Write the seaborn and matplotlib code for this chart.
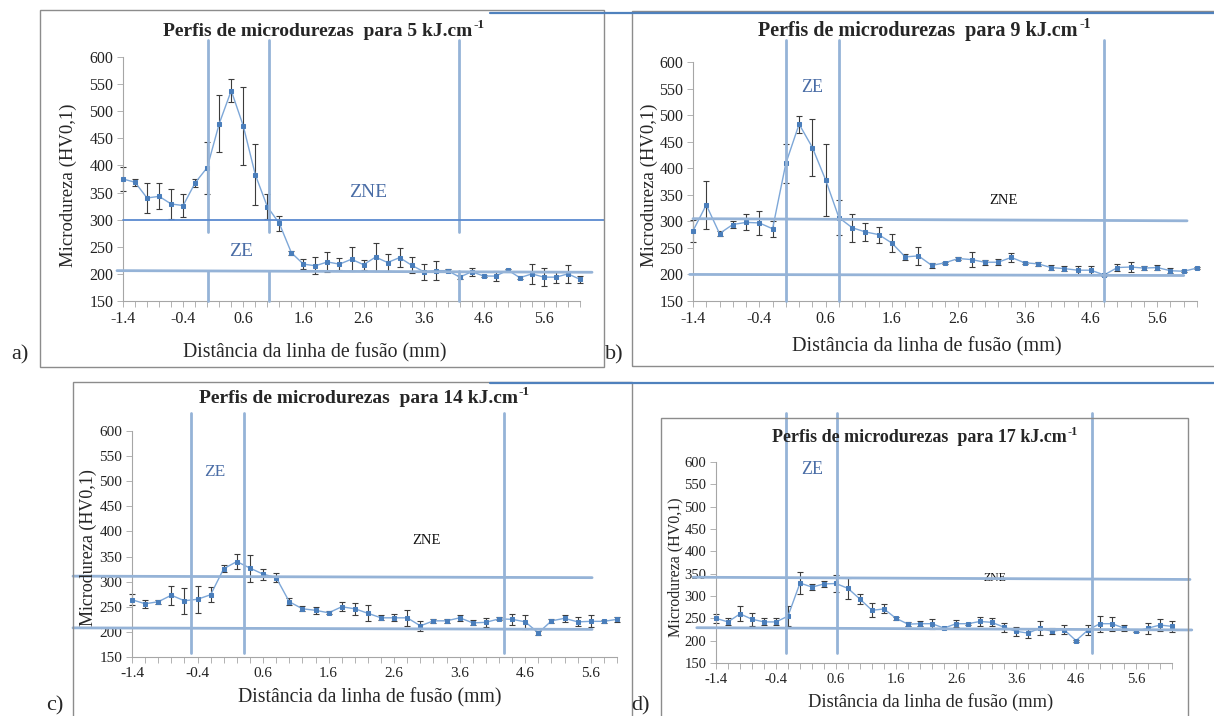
import matplotlib
matplotlib.use("Agg")
import matplotlib.pyplot as plt
from matplotlib.lines import Line2D
from matplotlib.patches import Rectangle
import seaborn as sns

sns.set_theme(style="white")
plt.rcParams["font.family"] = ["Liberation Serif", "DejaVu Serif"]

# ── dados ──────────────────────────────────────────────────────────────────────
DIST = [-1.4, -1.2, -1.0, -0.8, -0.6, -0.4, -0.2, 0.0, 0.2, 0.4, 0.6, 0.8, 1.0,
        1.2, 1.4, 1.6, 1.8, 2.0, 2.2, 2.4, 2.6, 2.8, 3.0, 3.2, 3.4, 3.6, 3.8,
        4.0, 4.2, 4.4, 4.6, 4.8, 5.0, 5.2, 5.4, 5.6, 5.8, 6.0, 6.2]
TICK_LABELS = ["-1.4", "-0.4", "0.6", "1.6", "2.6", "3.6", "4.6", "5.6"]
Y_TICKS = [150, 200, 250, 300, 350, 400, 450, 500, 550, 600]

HV_5 = [375, 369, 340, 343, 329, 326, 368, 396, 477, 538, 473, 383, 324, 293,
        239, 218, 215, 222, 218, 227, 217, 231, 221, 230, 216, 204, 206, 206,
        194, 204, 196, 196, 207, 193, 200, 194, 194, 200, 190]
ERR_5 = [22, 6, 27, 24, 28, 22, 7, 48, 52, 21, 72, 56, 23, 14, 4, 9, 16, 18,
         11, 22, 9, 26, 15, 17, 15, 15, 17, 3, 4, 7, 2, 10, 2, 3, 18, 16, 10,
         16, 7]

HV_9 = [282, 331, 277, 294, 298, 297, 286, 409, 483, 439, 378, 307, 288, 280,
        275, 259, 233, 235, 217, 222, 230, 228, 223, 223, 232, 222, 220, 213,
        211, 208, 208, 199, 213, 214, 212, 213, 207, 206, 212]
ERR_9 = [21, 45, 4, 6, 15, 23, 15, 37, 16, 54, 68, 33, 26, 17, 15, 17, 6, 17,
         5, 2, 3, 14, 5, 6, 8, 2, 4, 5, 4, 7, 8, 1, 7, 9, 4, 4, 5, 2, 2]

HV_14 = [264, 256, 260, 273, 262, 265, 274, 326, 340, 327, 315, 308, 260, 246,
         243, 238, 250, 246, 237, 228, 228, 228, 212, 222, 222, 228, 218, 219,
         226, 225, 220, 198, 222, 227, 220, 221, 221, 225]
ERR_14 = [11, 8, 4, 19, 26, 27, 15, 7, 15, 27, 11, 9, 7, 5, 7, 3, 9, 12, 16, 5,
          7, 16, 10, 4, 4, 6, 5, 9, 3, 11, 14, 4, 4, 7, 9, 12, 3, 5]

HV_17 = [250, 242, 260, 248, 242, 242, 255, 329, 320, 327, 328, 317, 293, 268,
         271, 250, 237, 238, 238, 228, 238, 238, 243, 241, 230, 221, 217, 228,
         221, 225, 200, 224, 238, 238, 228, 221, 228, 235, 232]
ERR_17 = [10, 8, 17, 15, 8, 8, 23, 25, 6, 6, 19, 23, 12, 16, 10, 3, 4, 5, 11,
          1, 8, 2, 11, 9, 10, 10, 10, 15, 7, 9, 2, 11, 18, 16, 7, 2, 12, 14, 13]

# limites das zonas (ZE / ZNE) desenhados à mão na figura original
ZONE_V_5 = [0.02, 1.02, 4.18]
ZONE_V_9 = [0.0, 0.8, 4.8]
ZONE_V_14 = [-0.5, 0.31, 4.28]
ZONE_V_17 = [-0.24, 0.62, 4.87]
# (x0, x1, y0, y1)
ZONE_H_5 = [(-1.4, 6.6, 300, 300), (-1.5, 6.4, 206, 203)]
ZONE_H_9 = [(-1.4, 6.05, 305, 301), (-1.45, 6.0, 200, 198)]
ZONE_H_14 = [(-2.3, 5.62, 311, 308), (-2.3, 5.62, 208, 205)]
ZONE_H_17 = [(-1.78, 6.5, 342, 337), (-1.72, 6.53, 229, 224)]

# ── layout (pixels da figura 1214x716) ─────────────────────────────────────────
W, H = 1214, 716
LINE_C = "#7da7d8"
MARK_C = "#4a7ebb"
ZONE_C = "#95b3d7"
ZTXT_C = "#4a6da6"
FRAME_C = "#8c8c8c"


def fx(x):
    return x / W


def fy(y):
    return 1 - y / H


panels = [
    dict(kj=5, hv=HV_5, err=ERR_5, zv=ZONE_V_5, zh=ZONE_H_5,
         ax=(123, 580, 57, 301), vtop=631, vbot=150, vgap=(205, 278),
         fs_tick=11.5, fs_title=14, fs_xl=14.2, fs_yl=13.5,
         title=(323, 31), xl=(315, 353), yl=(68, 185), let=("a)", 20, 355),
         ze=(0.57, 241, 14, ZTXT_C), zne=(2.67, 351, 14, ZTXT_C), h300="#5a8ad0"),
    dict(kj=9, hv=HV_9, err=ERR_9, zv=ZONE_V_9, zh=ZONE_H_9,
         ax=(693, 1197, 62, 301), vtop=641, vbot=150, vgap=None,
         fs_tick=11.5, fs_title=14.5, fs_xl=14.6, fs_yl=13.5,
         title=(924, 31), xl=(927, 347), yl=(649, 185), let=("b)", 614, 355),
         ze=(0.39, 552, 13, ZTXT_C), zne=(3.28, 340, 10.5, "#111111"), h300=None),
    dict(kj=14, hv=HV_14, err=ERR_14, zv=ZONE_V_14, zh=ZONE_H_14,
         ax=(132, 617, 431, 657), vtop=636, vbot=158, vgap=None,
         fs_tick=11, fs_title=14, fs_xl=14.2, fs_yl=13,
         title=(364, 398), xl=(370, 698), yl=(88, 548), let=("c)", 55, 706),
         ze=(-0.14, 519, 12.5, ZTXT_C), zne=(3.1, 381, 10.5, "#111111"), h300=None),
    dict(kj=17, hv=HV_17, err=ERR_17, zv=ZONE_V_17, zh=ZONE_H_17,
         ax=(716, 1172, 462, 663), vtop=710, vbot=172, vgap=None,
         fs_tick=10.5, fs_title=13, fs_xl=13.2, fs_yl=11.5,
         title=(924, 437), xl=(931, 702), yl=(675, 567), let=("d)", 641, 706),
         ze=(0.2, 583, 13, ZTXT_C), zne=(3.25, 341, 8.5, "#111111"), h300=None),
]

fig = plt.figure(figsize=(W / 100, H / 100), dpi=100)
fig.patch.set_facecolor("white")
renderer = fig.canvas.get_renderer()


def title_with_sup(cx, cy, base, size):
    # título em negrito com o expoente "-1" desenhado à parte (hífen curto)
    t = fig.text(0, fy(cy), base, ha="left", va="center", fontsize=size,
                 fontweight="bold")
    sup = fig.text(0, 0, "-1", ha="left", va="center", fontsize=size * 0.68,
                   fontweight="bold")
    w1 = t.get_window_extent(renderer).width
    w2 = sup.get_window_extent(renderer).width
    left = cx - (w1 + w2) / 2
    t.set_x(fx(left))
    sup.set_position((fx(left + w1 + 1), fy(cy - size * 0.42)))


# molduras das imagens coladas
for (x0, y0, x1, y1) in [(40, 10, 604, 367), (632, 11, 1240, 366),
                         (73, 382, 632, 740), (661, 418, 1188, 740)]:
    fig.add_artist(Rectangle((fx(x0), fy(y1)), (x1 - x0) / W, (y1 - y0) / H,
                             transform=fig.transFigure, fill=False,
                             ec=FRAME_C, lw=1.0))
for yy in (13, 383):
    fig.add_artist(Line2D([fx(490), fx(1214)], [fy(yy), fy(yy)],
                          transform=fig.transFigure, color="#4f81bd", lw=1.6))

for p in panels:
    x0, x1, ytop, ybot = p["ax"]
    ax = fig.add_axes([fx(x0), fy(ybot), (x1 - x0) / W, (ybot - ytop) / H])
    xs = DIST[:len(p["hv"])]

    eb = ax.errorbar(xs, p["hv"], yerr=p["err"], fmt="none", ecolor="#3c3c3c",
                     elinewidth=0.8, capsize=2.5, capthick=0.8, zorder=2)
    for art in eb.lines[1] + eb.lines[2]:
        art.set_clip_on(False)
    sns.lineplot(x=xs, y=p["hv"], ax=ax, color=LINE_C, lw=1.0, marker="s",
                 markersize=2.6, markerfacecolor=MARK_C, markeredgecolor=MARK_C,
                 errorbar=None, zorder=3)
    for ln in ax.lines:
        ln.set_clip_on(False)

    # limites de zona
    for xv in p["zv"]:
        if p["vgap"]:
            ax.plot([xv, xv], [p["vbot"], p["vgap"][0]], color=ZONE_C, lw=2,
                    clip_on=False, zorder=4)
            ax.plot([xv, xv], [p["vgap"][1], p["vtop"]], color=ZONE_C, lw=2,
                    clip_on=False, zorder=4)
        else:
            ax.plot([xv, xv], [p["vbot"], p["vtop"]], color=ZONE_C, lw=2,
                    clip_on=False, zorder=4)
    for i, (hx0, hx1, hy0, hy1) in enumerate(p["zh"]):
        c = p["h300"] if (i == 0 and p["h300"]) else ZONE_C
        lw = 1.3 if (i == 0 and p["h300"]) else 2
        ax.plot([hx0, hx1], [hy0, hy1], color=c, lw=lw, clip_on=False, zorder=4)

    zx, zy, zs, zc = p["ze"]
    ax.text(zx, zy, "ZE", ha="center", va="center", fontsize=zs, color=zc)
    zx, zy, zs, zc = p["zne"]
    ax.text(zx, zy, "ZNE", ha="center", va="center", fontsize=zs, color=zc)

    ax.set_xlim(xs[0], xs[-1])
    ax.set_ylim(150, 600)
    ax.set_xticks(xs)
    ax.set_xticklabels([f"{v:.1f}" if f"{v:.1f}" in TICK_LABELS else "" for v in xs])
    ax.set_yticks(Y_TICKS)
    ax.set_yticklabels([str(v) for v in Y_TICKS])
    ax.tick_params(axis="x", bottom=True, direction="out", length=4, width=0.6,
                   color="#a6a6a6", labelsize=p["fs_tick"], pad=3,
                   labelcolor="#222222")
    ax.tick_params(axis="y", left=True, direction="out", length=4, width=0.6,
                   color="#a6a6a6", labelsize=p["fs_tick"], pad=3,
                   labelcolor="#222222")
    for side in ("top", "right"):
        ax.spines[side].set_visible(False)
    for side in ("left", "bottom"):
        ax.spines[side].set_color("#a6a6a6")
        ax.spines[side].set_linewidth(0.8)
    ax.set_facecolor("none")
    ax.set_xlabel("")
    ax.set_ylabel("")

    tx, ty = p["title"]
    title_with_sup(tx, ty, f"Perfis de microdurezas  para {p['kj']} kJ.cm",
                   p["fs_title"])
    tx, ty = p["xl"]
    fig.text(fx(tx), fy(ty), "Distância da linha de fusão (mm)",
             ha="center", va="center", fontsize=p["fs_xl"])
    tx, ty = p["yl"]
    fig.text(fx(tx), fy(ty), "Microdureza (HV0,1)", rotation=90,
             ha="center", va="center", fontsize=p["fs_yl"])
    lt, tx, ty = p["let"]
    fig.text(fx(tx), fy(ty), lt, ha="center", va="center", fontsize=16)

fig.savefig("out.png", dpi=100, facecolor="white")
